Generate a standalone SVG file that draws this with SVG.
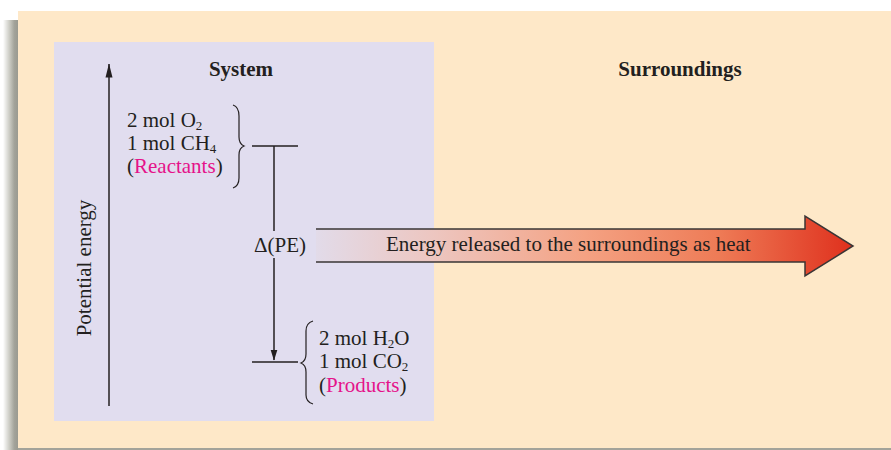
<svg xmlns="http://www.w3.org/2000/svg" width="891" height="450" viewBox="0 0 891 450">
  <defs>
    <linearGradient id="shadow" x1="0" y1="0" x2="1" y2="0">
      <stop offset="0" stop-color="#ffffff"/>
      <stop offset="0.45" stop-color="#c9c9c1"/>
      <stop offset="0.75" stop-color="#a3a39a"/>
      <stop offset="1" stop-color="#9a9a90"/>
    </linearGradient>
    <linearGradient id="heat" gradientUnits="userSpaceOnUse" x1="316" y1="0" x2="853" y2="0">
      <stop offset="0" stop-color="#e2dbe9"/>
      <stop offset="0.22" stop-color="#edc6c0"/>
      <stop offset="0.5" stop-color="#f4a283"/>
      <stop offset="0.75" stop-color="#ee7b56"/>
      <stop offset="1" stop-color="#df301d"/>
    </linearGradient>
    <marker id="ahLong" viewBox="0 0 14 8" refX="13.5" refY="4" markerWidth="14" markerHeight="8" markerUnits="userSpaceOnUse" orient="auto">
      <path d="M0,0.5 L14,4 L0,7.5 Z" fill="#231f20"/>
    </marker>
    <marker id="ah" viewBox="0 0 11 8" refX="10.5" refY="4" markerWidth="11" markerHeight="8" markerUnits="userSpaceOnUse" orient="auto">
      <path d="M0,0.5 L11,4 L0,7.5 Z" fill="#231f20"/>
    </marker>
  </defs>
  <style>
    text { font-family: "Liberation Serif", "Times New Roman", serif; fill: #231f20; font-size: 21px; }
    .bold { font-weight: bold; }
    .mag { fill: #e5128a; }
    .line { stroke: #231f20; stroke-width: 1.5; fill: none; }
    .brace { stroke: #231f20; stroke-width: 1.2; fill: none; }
    .sub { font-size: 13px; }
  </style>

  <rect x="0" y="0" width="891" height="450" fill="#ffffff"/>
  <g id="panel">
    <rect x="3" y="20" width="15" height="430" fill="url(#shadow)"/>
    <rect x="18" y="11" width="873" height="437" fill="#fee8c8"/>
    <rect x="18" y="448" width="873" height="2" fill="#a3a39a"/>
  </g>

  <g id="system">
    <rect x="54" y="42" width="380" height="379" fill="#e1ddef"/>
    <text class="bold" x="241" y="76" text-anchor="middle">System</text>
  </g>

  <g id="surroundings">
    <text class="bold" x="680" y="76" text-anchor="middle">Surroundings</text>
  </g>

  <g id="axis">
    <text transform="translate(91,268) rotate(-90)" text-anchor="middle">Potential energy</text>
  </g>

  <g id="reactants">
    <text x="127" y="127">2 mol O<tspan class="sub" dy="3">2</tspan></text>
    <text x="127" y="150">1 mol CH<tspan class="sub" dy="3">4</tspan></text>
    <text x="127" y="173">(<tspan class="mag">Reactants</tspan>)</text>
    <path class="brace" d="M233,105 Q239,107 239,116 L239,137 Q239,144 244,146 Q239,148 239,155 L239,178 Q239,186 233,188"/>
    <line class="line" x1="252" y1="146" x2="298" y2="146"/>
  </g>

  <g id="products">
    <text x="319" y="345">2 mol H<tspan class="sub" dy="3">2</tspan><tspan dy="-3">O</tspan></text>
    <text x="319" y="368">1 mol CO<tspan class="sub" dy="3">2</tspan></text>
    <text x="319" y="392">(<tspan class="mag">Products</tspan>)</text>
    <path class="brace" d="M313,321 Q306,323 306,331 L306,354 Q306,361 301,363 Q306,365 306,372 L306,395 Q306,402 313,404"/>
    <line class="line" x1="252" y1="362" x2="298" y2="362"/>
  </g>

  <g id="delta-label">
    <text x="280" y="252" text-anchor="middle">Δ(PE)</text>
  </g>

  <g id="heat-arrow">
    <path d="M316,229 L805,229 L805,216 L853,246 L805,276 L805,262 L316,262 Z" fill="url(#heat)"/>
    <path d="M316,229 L805,229 L805,216 L853,246 L805,276 L805,262 L316,262" fill="none" stroke="#3a3636" stroke-width="1.5" stroke-linejoin="miter"/>
    <text x="386" y="251">Energy released to the surroundings as heat</text>
  </g>

  <g id="connectors">
    <line class="line" x1="109" y1="406" x2="109" y2="64" marker-end="url(#ahLong)"/>
    <line class="line" x1="274" y1="146" x2="274" y2="231"/>
    <line class="line" x1="274" y1="258" x2="274" y2="360" marker-end="url(#ah)"/>
  </g>
</svg>
